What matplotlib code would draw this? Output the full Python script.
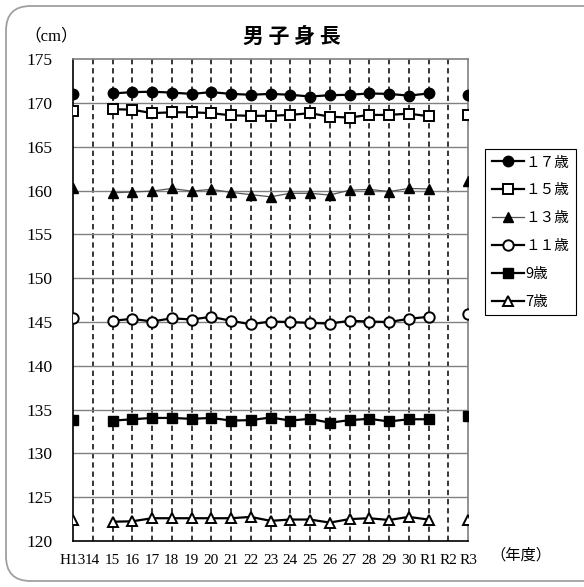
import numpy as np
import matplotlib
matplotlib.use('Agg')
from matplotlib import pyplot as plt
from matplotlib.patches import FancyBboxPatch

nan = np.nan

years = ['H13', '14', '15', '16', '17', '18', '19', '20', '21', '22', '23',
         '24', '25', '26', '27', '28', '29', '30', 'R1', 'R2', 'R3']

age17 = [171.0, nan, 171.1, 171.25, 171.3, 171.2, 171.05, 171.25, 171.05,
         170.95, 171.05, 170.95, 170.75, 170.9, 170.95, 171.1, 171.05,
         170.85, 171.1, nan, 170.9]
age15 = [169.1, nan, 169.3, 169.25, 168.85, 168.95, 168.95, 168.85, 168.6,
         168.55, 168.55, 168.65, 168.85, 168.45, 168.35, 168.65, 168.65,
         168.8, 168.5, nan, 168.6]
age13 = [160.35, nan, 159.75, 159.85, 159.95, 160.25, 159.95, 160.15, 159.8,
         159.55, 159.3, 159.7, 159.7, 159.5, 160.05, 160.15, 159.9,
         160.25, 160.2, nan, 161.1]
age11 = [145.43, nan, 145.14, 145.37, 145.06, 145.43, 145.29, 145.6, 145.14,
         144.75, 145.06, 145.0, 144.9, 144.83, 145.14, 145.06, 145.0,
         145.37, 145.6, nan, 145.97]
age9 = [133.8, nan, 133.74, 133.9, 134.05, 134.05, 133.95, 134.05, 133.75,
        133.8, 134.1, 133.75, 133.95, 133.5, 133.8, 133.95, 133.65,
        133.9, 133.9, nan, 134.3]
age7 = [122.4, nan, 122.2, 122.25, 122.6, 122.6, 122.6, 122.6, 122.6,
        122.75, 122.3, 122.45, 122.45, 122.1, 122.5, 122.6, 122.4,
        122.75, 122.45, nan, 122.45]

labels = ['１７歳', '１５歳', '１３歳', '１１歳', '9歳', '7歳']

serif = ['Liberation Serif', 'Noto Sans CJK JP']
gothic = ['Noto Sans CJK JP', 'DejaVu Sans']


def main():

    fig = plt.figure(figsize=(5.84, 5.87), dpi=100)

    # rounded frame round the chart, running off the right edge
    frame = FancyBboxPatch((6 / 584, 6 / 587), 620 / 584, 575 / 587,
                           boxstyle='round,pad=0,rounding_size=0.042',
                           transform=fig.transFigure, facecolor='none',
                           edgecolor='#a0a0a0', linewidth=1.3, zorder=-1)
    fig.patches.append(frame)

    ax = fig.add_axes([73 / 584, 1 - 541 / 587, 395 / 584, 481.7 / 587])
    ax.set_facecolor('none')

    x = np.arange(len(years))

    # dashed vertical lines at every year
    for xi in x[1:-1]:
        ax.axvline(xi, color='black', linewidth=1.1,
                   linestyle=(0, (3.5, 2.5)), zorder=1)
    for yv in range(125, 175, 5):
        ax.axhline(yv, color='#808080', linewidth=1.0, zorder=1)

    ms = 7.5
    ax.plot(x, age17, color='black', linewidth=1.6, marker='o',
            markersize=ms, markerfacecolor='black', label=labels[0], zorder=3)
    ax.plot(x, age15, color='black', linewidth=1.6, marker='s',
            markersize=ms - 0.5, markerfacecolor='white',
            markeredgewidth=1.4, label=labels[1], zorder=3)
    ax.plot(x, age13, color='#555555', linewidth=0.9, marker='^',
            markersize=ms, markerfacecolor='black', markeredgecolor='black',
            label=labels[2], zorder=3)
    ax.plot(x, age11, color='black', linewidth=1.6, marker='o',
            markersize=ms, markerfacecolor='white', markeredgewidth=1.4,
            label=labels[3], zorder=3)
    ax.plot(x, age9, color='black', linewidth=1.6, marker='s',
            markersize=ms - 0.5, markerfacecolor='black',
            label=labels[4], zorder=3)
    ax.plot(x, age7, color='black', linewidth=1.6, marker='^',
            markersize=ms, markerfacecolor='white', markeredgewidth=1.4,
            label=labels[5], zorder=3)

    ax.set_xlim(0, len(years) - 1)
    ax.set_ylim(120, 175)
    ax.set_xticks(x)
    ax.set_xticklabels(years, fontfamily=serif, fontsize=11)
    ax.set_yticks(range(120, 176, 5))
    ax.set_yticklabels([str(v) for v in range(120, 176, 5)],
                       fontfamily=serif, fontsize=12.5)
    ax.tick_params(axis='x', length=0, pad=9)
    ax.tick_params(axis='y', length=0, pad=15)

    for side in ['left', 'bottom']:
        ax.spines[side].set_color('black')
        ax.spines[side].set_linewidth(1.2)
    for side in ['top', 'right']:
        ax.spines[side].set_color('#808080')
        ax.spines[side].set_linewidth(1.2)

    fig.text(292 / 584, 1 - 36 / 587, '男 子 身 長', fontfamily=gothic,
             fontsize=15, fontweight='bold', ha='center', va='center')
    fig.text(51 / 584, 1 - 36 / 587, '（cm）', fontfamily=serif,
             fontsize=12, ha='center', va='center')
    fig.text(521 / 584, 1 - 555 / 587, '（年度）', fontfamily=gothic,
             fontsize=11, ha='center', va='center')

    leg = fig.legend(loc='upper left',
                     bbox_to_anchor=(485 / 584, 1 - 149 / 587),
                     prop={'family': gothic, 'size': 10.5},
                     frameon=True, fancybox=False, framealpha=1,
                     edgecolor='black', handlelength=2.2,
                     handletextpad=0.1, labelspacing=0.95,
                     borderpad=0.45, borderaxespad=0)
    leg.get_frame().set_linewidth(0.8)

    plt.savefig('out.png', dpi=100)


if __name__ == '__main__':
    main()
